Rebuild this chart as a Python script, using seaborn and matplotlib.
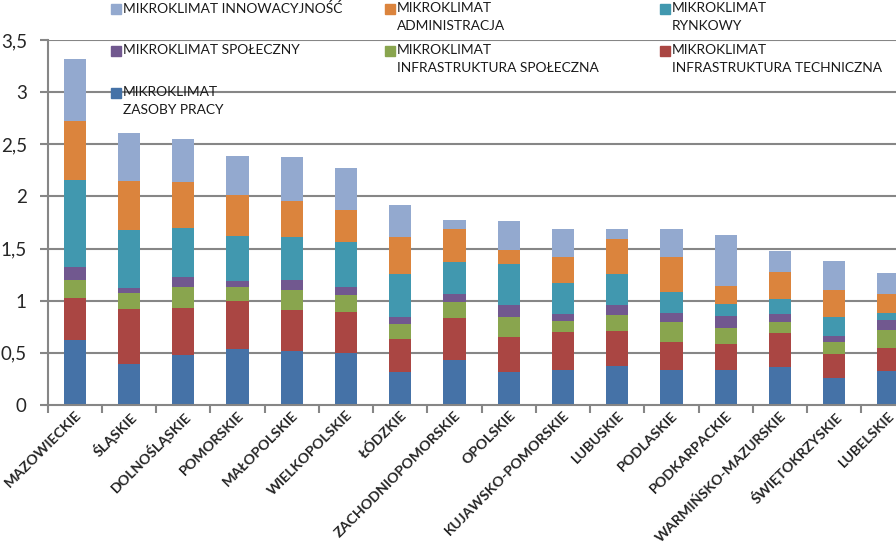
import numpy as np
import pandas as pd
import matplotlib
matplotlib.use("Agg")
import matplotlib.pyplot as plt
from matplotlib.patches import Rectangle
from matplotlib.ticker import FuncFormatter, FixedLocator
import seaborn as sns

regions = ["MAZOWIECKIE", "ŚLĄSKIE", "DOLNOŚLĄSKIE", "POMORSKIE", "MAŁOPOLSKIE",
           "WIELKOPOLSKIE", "ŁÓDZKIE", "ZACHODNIOPOMORSKIE", "OPOLSKIE",
           "KUJAWSKO-POMORSKIE", "LUBUSKIE", "PODLASKIE", "PODKARPACKIE",
           "WARMIŃSKO-MAZURSKIE", "ŚWIĘTOKRZYSKIE", "LUBELSKIE"]

# kolejnosc od dolu slupka
zasoby_pracy = [0.626, 0.396, 0.479, 0.537, 0.518, 0.499, 0.320, 0.431,
                0.320, 0.339, 0.377, 0.339, 0.339, 0.364, 0.262, 0.326]
infra_techniczna = [0.400, 0.524, 0.451, 0.460, 0.393, 0.393, 0.313, 0.403,
                    0.332, 0.361, 0.332, 0.268, 0.249, 0.326, 0.230, 0.224]
infra_spoleczna = [0.172, 0.154, 0.201, 0.134, 0.192, 0.163, 0.144, 0.154,
                   0.192, 0.105, 0.154, 0.192, 0.153, 0.109, 0.115, 0.172]
spoleczny = [0.125, 0.048, 0.096, 0.058, 0.095, 0.076, 0.067, 0.076,
             0.115, 0.067, 0.096, 0.083, 0.115, 0.077, 0.058, 0.096]
rynkowy = [0.834, 0.556, 0.470, 0.434, 0.413, 0.432, 0.412, 0.307,
           0.393, 0.298, 0.300, 0.205, 0.115, 0.140, 0.179, 0.064]
administracja = [0.566, 0.470, 0.444, 0.390, 0.345, 0.307, 0.355, 0.316,
                 0.134, 0.249, 0.333, 0.332, 0.173, 0.262, 0.262, 0.185]
innowacyjnosc = [0.594, 0.460, 0.409, 0.377, 0.422, 0.402, 0.307, 0.087,
                 0.278, 0.268, 0.095, 0.268, 0.486, 0.198, 0.275, 0.199]

series = [
    ("MIKROKLIMAT\nZASOBY PRACY", zasoby_pracy, "#4572A7"),
    ("MIKROKLIMAT\nINFRASTRUKTURA TECHNICZNA", infra_techniczna, "#AA4643"),
    ("MIKROKLIMAT\nINFRASTRUKTURA SPOŁECZNA", infra_spoleczna, "#89A54E"),
    ("MIKROKLIMAT SPOŁECZNY", spoleczny, "#71588F"),
    ("MIKROKLIMAT\nRYNKOWY", rynkowy, "#4198AF"),
    ("MIKROKLIMAT\nADMINISTRACJA", administracja, "#DB843D"),
    ("MIKROKLIMAT INNOWACYJNOŚĆ", innowacyjnosc, "#93A9CF"),
]

sns.set_style("white")
plt.rcParams["font.family"] = ["Lato", "DejaVu Sans"]

fig = plt.figure(figsize=(8.96, 5.47), dpi=100)
W, H = 896, 547
ax = fig.add_axes([47.7 / W, (H - 405) / H, 868 / W, 365 / H])

grid_col = "#868686"
for v in np.arange(0.5, 3.51, 0.5):
    ax.axhline(v, color=grid_col, lw=1.5, zorder=0)

# stos: rysujemy sumy skumulowane od gory
cum = np.cumsum(np.array([s[1] for s in series]), axis=0)
for i in range(len(series) - 1, -1, -1):
    df = pd.DataFrame({"region": regions, "val": cum[i]})
    sns.barplot(data=df, x="region", y="val", order=regions, color=series[i][2],
                saturation=1, width=0.41, ax=ax, zorder=2, linewidth=0)

ax.set_xlim(-0.5, 15.5)
ax.set_ylim(0, 3.5)
ax.set_xlabel("")
ax.set_ylabel("")

ax.yaxis.set_major_formatter(FuncFormatter(lambda v, p: f"{v:g}".replace(".", ",")))
ax.set_yticks(np.arange(0, 3.51, 0.5))
ax.tick_params(axis="y", length=6, width=1.5, color=grid_col, pad=9, labelsize=13.5,
               left=True)

ax.xaxis.set_minor_locator(FixedLocator(np.arange(-0.5, 15.6, 1)))
ax.tick_params(axis="x", which="major", length=0, pad=3, labelsize=10.3)
ax.tick_params(axis="x", which="minor", length=6, width=1.5, color=grid_col, bottom=True)
for lbl in ax.get_xticklabels():
    lbl.set_rotation(45)
    lbl.set_ha("right")
    lbl.set_va("top")
    lbl.set_rotation_mode("anchor")
    lbl.set_fontweight("bold")

for s in ["top", "right"]:
    ax.spines[s].set_visible(False)
for s in ["left", "bottom"]:
    ax.spines[s].set_color(grid_col)
    ax.spines[s].set_linewidth(1.5)

# legenda w trzech kolumnach, wiersz po wierszu
leg_pos = [
    (6, 111, 4), (5, 385, 4), (4, 660, 4),
    (3, 111, 46), (2, 385, 46), (1, 660, 46),
    (0, 111, 88),
]
for idx, x0, y0 in leg_pos:
    label, _, col = series[idx]
    fig.patches.append(Rectangle((x0 / W, 1 - (y0 + 10) / H), 10 / W, 10 / H,
                                 transform=fig.transFigure, color=col))
    fig.text((x0 + 12) / W, 1 - (y0 - 2) / H, label, ha="left", va="top",
             fontsize=9.9, linespacing=1.55, color="#1a1a1a")

fig.savefig("out.png", dpi=100)
